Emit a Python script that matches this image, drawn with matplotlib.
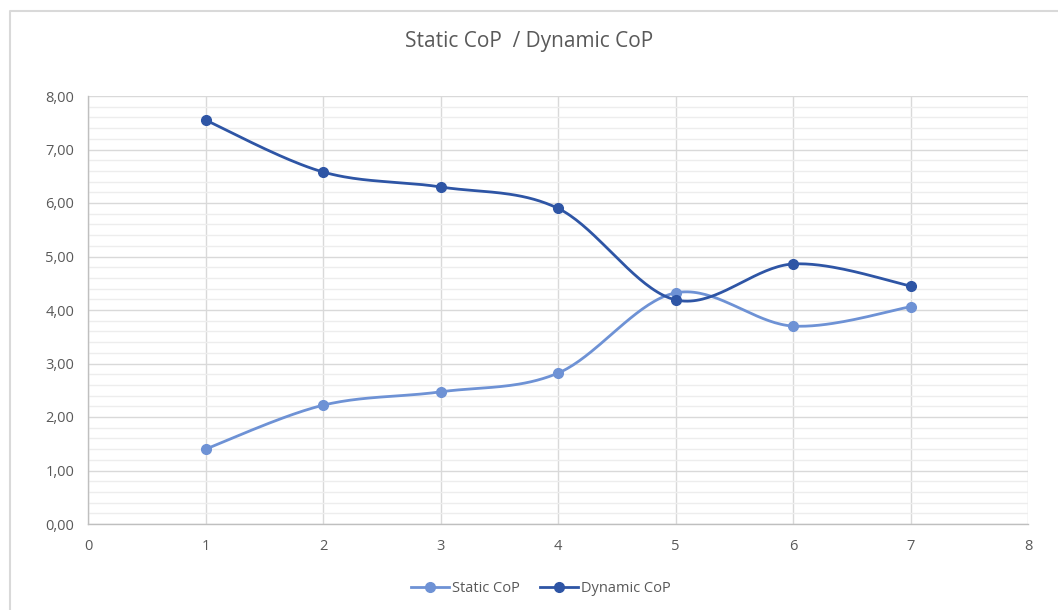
import matplotlib
matplotlib.use("Agg")
import matplotlib.pyplot as plt
import numpy as np
from matplotlib.lines import Line2D
from matplotlib.ticker import FuncFormatter, MultipleLocator

# ─── Data ─────────────────────────────────────────────────────────────────────
x_vals = [1, 2, 3, 4, 5, 6, 7]
static_cop = [1.40, 2.22, 2.47, 2.82, 4.32, 3.70, 4.06]
dynamic_cop = [7.55, 6.58, 6.30, 5.90, 4.19, 4.86, 4.45]

title = "Static CoP  / Dynamic CoP"
series_names = ["Static CoP", "Dynamic CoP"]
colors = ["#6E92D5", "#2E55A5"]
text_color = "#595959"
grid_color = "#D9D9D9"


# ─── Excel-style smoothed line (cardinal Bezier) ─────────────────────────────
def smooth(xs, ys, n=40):
    p = np.column_stack([xs, ys]).astype(float)
    p_ext = np.vstack([p[0], p, p[-1]])
    t = np.linspace(0, 1, n)[:, None]
    out = []
    for i in range(len(p) - 1):
        p0, p3 = p_ext[i + 1], p_ext[i + 2]
        c1 = p0 + (p_ext[i + 2] - p_ext[i]) / 6.0
        c2 = p3 - (p_ext[i + 3] - p_ext[i + 1]) / 6.0
        seg = ((1 - t) ** 3) * p0 + 3 * ((1 - t) ** 2) * t * c1 \
            + 3 * (1 - t) * t ** 2 * c2 + t ** 3 * p3
        out.append(seg)
    out = np.vstack(out)
    return out[:, 0], out[:, 1]


plt.rcParams["font.family"] = ["Open Sans", "DejaVu Sans"]

fig = plt.figure(figsize=(10.58, 6.10), dpi=100)
ax = fig.add_axes([88 / 1058, 1 - 524 / 610, 940 / 1058, 428 / 610])

for ys, col, name in zip([static_cop, dynamic_cop], colors, series_names):
    sx, sy = smooth(x_vals, ys)
    ax.plot(sx, sy, color=col, linewidth=2.0, zorder=3, solid_capstyle="round")
    ax.plot(x_vals, ys, "o", color=col, markersize=7, zorder=4)

ax.set_xlim(0, 8)
ax.set_ylim(0, 8)
ax.xaxis.set_major_locator(MultipleLocator(1))
ax.yaxis.set_major_locator(MultipleLocator(1))
ax.yaxis.set_minor_locator(MultipleLocator(0.2))
ax.yaxis.set_major_formatter(FuncFormatter(lambda v, _: f"{v:.2f}".replace(".", ",")))

ax.grid(True, which="major", color=grid_color, linewidth=1.0, zorder=0)
ax.grid(True, which="minor", axis="y", color="#EDEDED", linewidth=1.0, zorder=0)
ax.set_axisbelow(True)

for side in ["top", "right"]:
    ax.spines[side].set_visible(False)
for side in ["left", "bottom"]:
    ax.spines[side].set_color("#BFBFBF")
    ax.spines[side].set_linewidth(1.0)

ax.tick_params(which="both", length=0, colors=text_color, labelsize=10.5)
ax.tick_params(axis="x", pad=11)
ax.tick_params(axis="y", pad=10)

fig.text(0.5, 1 - 42 / 610, title, ha="center", va="center",
         fontsize=15, color=text_color)

handles = [Line2D([0], [0], color=c, linewidth=2.0, marker="o", markersize=7)
           for c in colors]
leg = fig.legend(handles, series_names, loc="center",
                 bbox_to_anchor=(541 / 1058, 1 - 589 / 610), ncol=2,
                 frameon=False, fontsize=10.5, handlelength=2.6,
                 handletextpad=0.2, columnspacing=1.4)
for txt in leg.get_texts():
    txt.set_color(text_color)

# outer chart border (top and left visible)
fig.add_artist(Line2D([9.5 / 1058, 9.5 / 1058, 1.0],
                      [0.0, 1 - 10.5 / 610, 1 - 10.5 / 610],
                      transform=fig.transFigure, color="#D9D9D9", linewidth=1.5))

fig.savefig("out.png", dpi=100, facecolor="white")
